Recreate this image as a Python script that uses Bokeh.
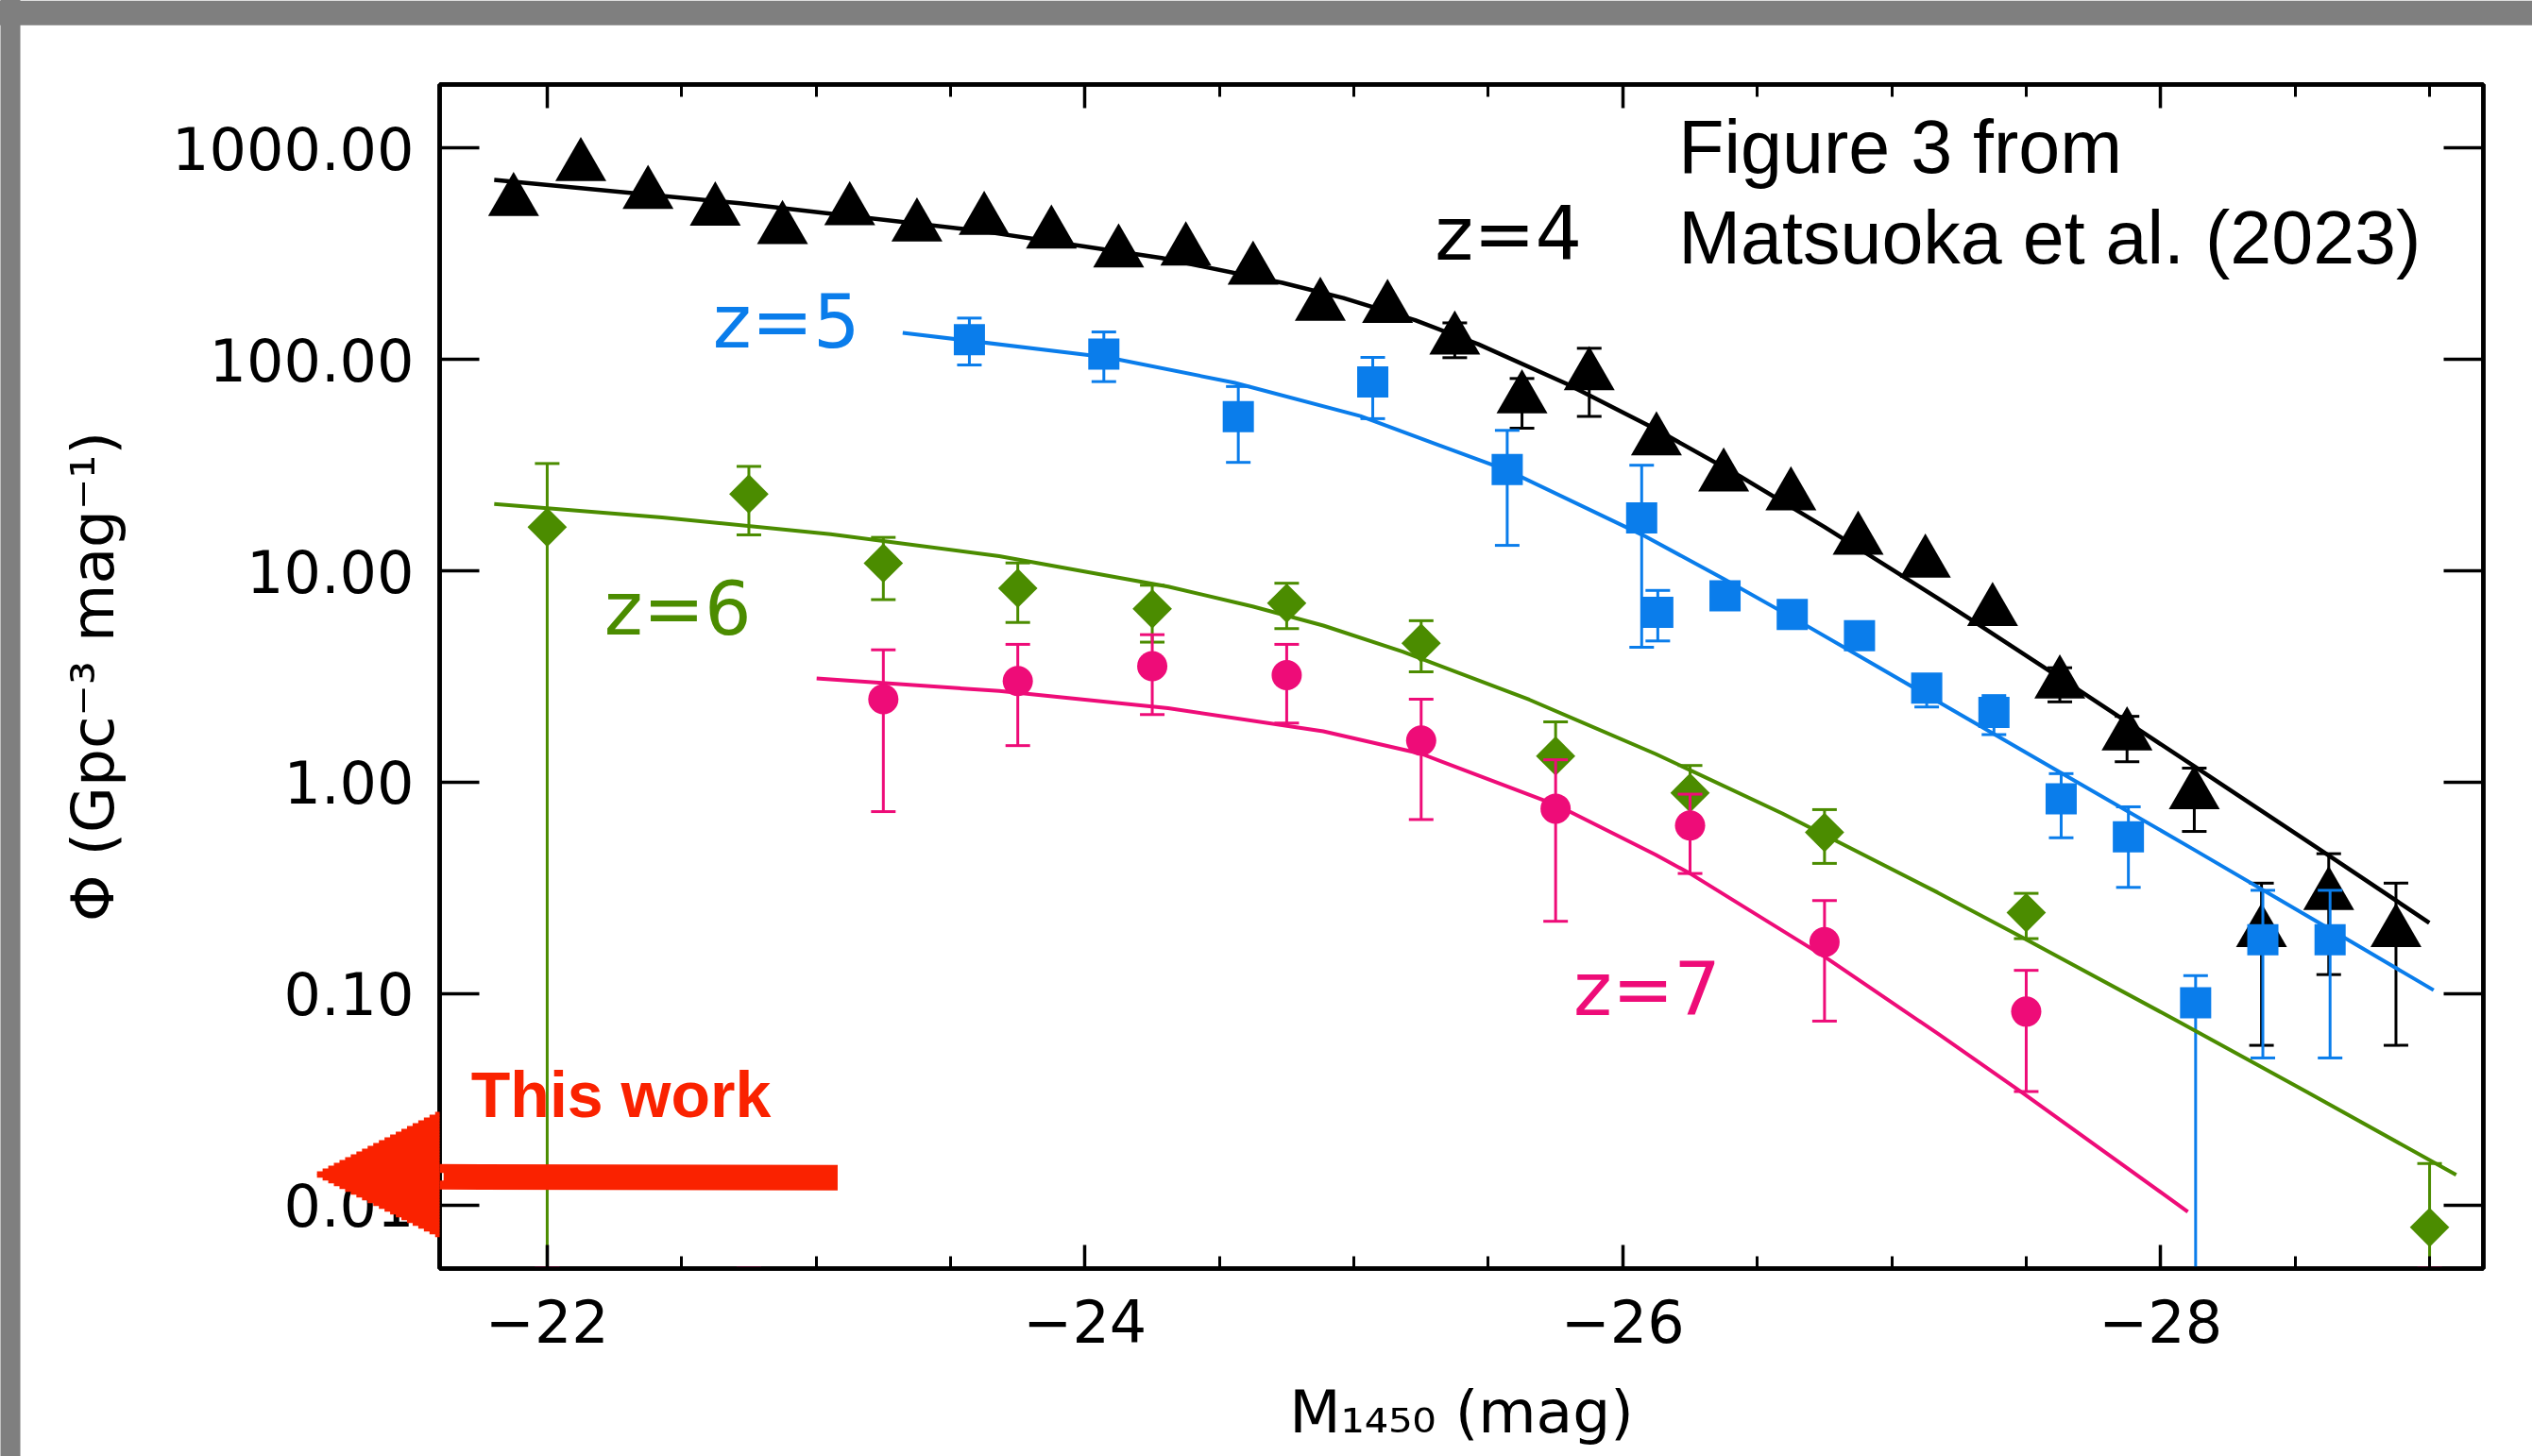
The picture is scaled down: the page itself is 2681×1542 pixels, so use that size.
from bokeh.plotting import figure
from bokeh.models import (Range1d, LinearAxis, LogAxis, FixedTicker, PrintfTickFormatter,
                          CustomJSTickFormatter, Label, Arrow, NormalHead)
from bokeh.embed import file_html
from bokeh.resources import INLINE

# ---------------- data ----------------
x_major_ticks = [-22, -24, -26, -28]
x_minor_ticks = [-22.5, -23, -23.5, -24.5, -25, -25.5, -26.5, -27, -27.5, -28.5, -29]
y_ticks = [0.01, 0.1, 1, 10, 100, 1000]

# z = 4 (black triangles)
z4_mag = [-21.875, -22.125, -22.375, -22.625, -22.875, -23.125, -23.375, -23.625, -23.875,
          -24.125, -24.375, -24.625, -24.875, -25.125, -25.375, -25.625, -25.875, -26.125,
          -26.375, -26.625, -26.875, -27.125, -27.375, -27.625, -27.875, -28.125, -28.375,
          -28.625, -28.875]
z4_phi = [560, 820, 606, 505, 413, 507, 425, 456, 393, 320, 327, 265, 179, 175, 124, 65.3,
          84, 41.3, 27.9, 22.7, 14.0, 10.9, 6.43, 2.92, 1.66, 0.874, 0.195, 0.292, 0.195]
z4_lo = [560, 820, 606, 505, 413, 507, 425, 456, 393, 320, 327, 265, 179, 175, 102, 47.3,
         53.8, 41.3, 27.9, 22.7, 14.0, 10.9, 6.43, 2.40, 1.25, 0.585, 0.0569, 0.123, 0.0569]
z4_hi = [560, 820, 606, 505, 413, 507, 425, 456, 393, 320, 327, 265, 179, 175, 149, 81.3,
         113, 41.3, 27.9, 22.7, 14.0, 10.9, 6.43, 3.48, 2.05, 1.166, 0.333, 0.459, 0.333]
z4_fit_mag = [-21.803, -22.717, -23.614, -24.285, -24.734, -24.961, -25.228, -25.463, -25.793,
              -26.122, -26.436, -26.750, -27.170, -27.289, -27.697, -28.152, -28.623, -28.999]
z4_fit_phi = [707, 548, 405.5, 302, 230.7, 195.3, 153.4, 118, 76.5, 46.8, 28.0, 16.13, 7.44,
              5.94, 2.72, 1.129, 0.452, 0.2162]

# z = 5 (blue squares)
z5_mag = [-23.57, -24.07, -24.57, -25.07, -25.57, -26.07, -26.13, -26.38, -26.63, -26.88,
          -27.13, -27.38, -27.63, -27.88, -28.13, -28.38, -28.63]
z5_phi = [124, 106, 53.7, 78.4, 30.2, 17.8, 6.37, 7.62, 6.22, 4.94, 2.79, 2.14, 0.834, 0.551,
          0.0905, 0.180, 0.180]
z5_lo = [94.2, 78.6, 32.6, 52.5, 13.2, 4.35, 4.66, 7.62, 6.22, 4.94, 2.27, 1.68, 0.546, 0.318,
         0.005, 0.0496, 0.0496]
z5_hi = [157, 135, 74.5, 102.3, 46.2, 31.6, 8.08, 7.62, 6.22, 4.94, 2.79, 2.57, 1.098, 0.765,
         0.1216, 0.308, 0.308]
z5_fit_mag = [-23.322, -24.084, -24.554, -25.024, -25.573, -26.075, -26.373, -26.639, -26.906,
              -27.126, -27.634, -28.121, -28.638, -29.015]
z5_fit_phi = [133.8, 102.4, 77.7, 54.0, 29.8, 14.74, 9.20, 5.93, 3.78, 2.60, 1.10, 0.482,
              0.1987, 0.1038]

# z = 6 (green diamonds)
z6_mag = [-22.0, -22.75, -23.25, -23.75, -24.25, -24.75, -25.25, -25.75, -26.25, -26.75, -27.5, -29.0]
z6_phi = [16.1, 23.1, 10.87, 8.28, 6.61, 7.03, 4.55, 1.33, 0.891, 0.579, 0.2415, 0.00784]
z6_lo = [0.005, 14.8, 7.31, 5.70, 4.60, 5.33, 3.33, 1.33, 0.891, 0.413, 0.182, 0.005]
z6_hi = [32.2, 31.2, 14.4, 10.9, 8.55, 8.74, 5.81, 1.93, 1.20, 0.742, 0.298, 0.0157]
z6_fit_mag = [-21.803, -22.427, -23.054, -23.681, -24.309, -24.623, -24.886, -25.181, -25.652,
              -26.122, -26.593, -27.170, -27.477, -28.073, -28.544, -29.099]
z6_fit_phi = [20.7, 17.9, 14.9, 11.73, 8.42, 6.79, 5.51, 4.15, 2.458, 1.36, 0.712, 0.301,
              0.1868, 0.0729, 0.0342, 0.01388]

# z = 7 (pink circles)
z7_mag = [-23.25, -23.75, -24.25, -24.75, -25.25, -25.75, -26.25, -26.75, -27.5]
z7_phi = [2.47, 3.01, 3.54, 3.21, 1.574, 0.750, 0.6245, 0.1752, 0.0822]
z7_lo = [0.726, 1.49, 2.09, 1.905, 0.666, 0.2198, 0.370, 0.0741, 0.0344]
z7_hi = [4.23, 4.49, 4.99, 4.49, 2.47, 1.277, 0.878, 0.2755, 0.1288]
z7_floor_mag = [-22.0, -22.75, -29.0]
z7_floor_phi = [0.005, 0.005, 0.005]
z7_fit_mag = [-23.002, -23.681, -24.309, -24.886, -25.250, -25.753, -26.122, -26.253, -26.751,
              -27.170, -27.490, -28.101]
z7_fit_phi = [3.10, 2.70, 2.24, 1.742, 1.364, 0.780, 0.454, 0.368, 0.1492, 0.0648, 0.03366,
              0.00929]

# ---------------- styling ----------------
BLACK = "#000000"
BLUE = "#0A7DEB"
GREEN = "#4B8C00"
PINK = "#EE0C78"
RED = "#FA2200"
GRAY = "#7F7F7F"
TICK_FONT = "DejaVu Sans"

p = figure(width=2681, height=1542,
           x_range=Range1d(-21.6, -29.2), y_range=Range1d(0.005, 2000),
           y_axis_type="log", output_backend="svg", toolbar_location=None,
           min_border_left=465, min_border_right=52, min_border_top=89, min_border_bottom=199)
p.xgrid.visible = False
p.ygrid.visible = False
p.outline_line_color = BLACK
p.outline_line_width = 4.5
p.background_fill_color = "white"
p.border_fill_color = "white"


def style_axis(ax, major_in, minor_in):
    ax.axis_line_color = BLACK
    ax.axis_line_width = 4.5
    ax.major_tick_in = major_in
    ax.major_tick_out = 0
    ax.minor_tick_in = minor_in
    ax.minor_tick_out = 0
    ax.major_tick_line_color = BLACK
    ax.minor_tick_line_color = BLACK
    ax.major_tick_line_width = 3.5
    ax.minor_tick_line_width = 3
    ax.major_label_text_font = TICK_FONT
    ax.major_label_text_font_size = "62px"
    ax.major_label_text_color = BLACK
    ax.axis_label_text_font = TICK_FONT
    ax.axis_label_text_font_size = "63px"
    ax.axis_label_text_font_style = "normal"
    ax.axis_label_text_color = BLACK


xticker = FixedTicker(ticks=x_major_ticks, minor_ticks=x_minor_ticks)
yticker = FixedTicker(ticks=y_ticks, minor_ticks=[])

xa = p.xaxis[0]
xa.ticker = xticker
xa.formatter = CustomJSTickFormatter(code="return '\u2212' + Math.abs(tick).toFixed(0);")
style_axis(xa, 25, 13)
xa.major_label_standoff = 32
xa.axis_label = "M\u2081\u2084\u2085\u2080 (mag)"
xa.axis_label_standoff = 34

ya = p.yaxis[0]
ya.ticker = yticker
ya.formatter = PrintfTickFormatter(format="%.2f")
style_axis(ya, 42, 0)
ya.major_label_standoff = 27
ya.axis_label = "\u03a6 (Gpc\u207b\u00b3 mag\u207b\u00b9)"
ya.axis_label_standoff = 44

top = LinearAxis(ticker=xticker, formatter=CustomJSTickFormatter(code="return '';"))
style_axis(top, 25, 13)
top.major_label_standoff = 0
p.add_layout(top, "above")

right = LogAxis(ticker=yticker, formatter=CustomJSTickFormatter(code="return '';"))
style_axis(right, 42, 0)
right.major_label_standoff = 0
p.add_layout(right, "right")


def px(X, Y):
    """canvas pixel -> data coordinates (used only for decorations drawn outside the frame)"""
    return -26 + (1717 - X) / 284.6, 10 ** ((828.3 - Y) / 224)


def bar(X0, Y0, X1, Y1, color, width, head_size):
    """thick stroke; the (invisible) head sets the region where the stroke may show outside the frame"""
    x0, y0 = px(X0, Y0)
    x1, y1 = px(X1, Y1)
    head = NormalHead(size=head_size, fill_alpha=0, line_alpha=0)
    p.add_layout(Arrow(end=head, x_start=x0, y_start=y0, x_end=x1, y_end=y1,
                       line_color=color, line_width=width, line_cap="butt"))


# gray screenshot border strips (top and left)
bar(10.5, 1600, 10.5, -3000, GRAY, 21, 12000)
bar(2750, 13, -3000, 13, GRAY, 26, 12000)


def errbars(mag, lo, hi, color):
    p.segment(x0=mag, y0=lo, x1=mag, y1=hi, line_color=color, line_width=3)
    p.scatter(x=mag, y=lo, marker="dash", size=26, line_color=color, line_width=3)
    p.scatter(x=mag, y=hi, marker="dash", size=26, line_color=color, line_width=3)


# z = 4
p.line(z4_fit_mag, z4_fit_phi, line_color=BLACK, line_width=4.5)
errbars(z4_mag, z4_lo, z4_hi, BLACK)
p.scatter(z4_mag, z4_phi, marker="triangle", size=54, fill_color=BLACK, line_color=None)

# z = 5
p.line(z5_fit_mag, z5_fit_phi, line_color=BLUE, line_width=4)
errbars(z5_mag, z5_lo, z5_hi, BLUE)
p.scatter(z5_mag, z5_phi, marker="square", size=33, fill_color=BLUE, line_color=None)

# z = 6
p.line(z6_fit_mag, z6_fit_phi, line_color=GREEN, line_width=4)
errbars(z6_mag, z6_lo, z6_hi, GREEN)
p.scatter(z6_mag, z6_phi, marker="square", angle=0.785398, size=29.5, fill_color=GREEN, line_color=None)

# z = 7
p.line(z7_fit_mag, z7_fit_phi, line_color=PINK, line_width=4)
errbars(z7_mag, z7_lo, z7_hi, PINK)
p.scatter(z7_floor_mag, z7_floor_phi, marker="dash", size=26, line_color=PINK, line_width=5)
p.scatter(z7_mag, z7_phi, marker="circle", size=32, fill_color=PINK, line_color=None)

# redshift labels
for txt, x, y, col in [("z=4", -25.301, 392, BLACK), ("z=5", -22.616, 150.7, BLUE),
                       ("z=6", -22.212, 6.58, GREEN), ("z=7", -25.816, 0.1041, PINK)]:
    p.add_layout(Label(x=x, y=y, text=txt, text_font=TICK_FONT, text_font_size="78px",
                       text_color=col, text_align="left", text_baseline="alphabetic"))

p.add_layout(Label(x=-26.207, y=1013.5, text="Figure 3 from", text_font="Liberation Sans",
                   text_font_size="79px", text_color=BLACK, text_align="left",
                   text_baseline="alphabetic"))
p.add_layout(Label(x=-26.207, y=377.8, text="Matsuoka et al. (2023)", text_font="Liberation Sans",
                   text_font_size="79px", text_color=BLACK, text_align="left",
                   text_baseline="alphabetic"))

# "This work" red arrow: shaft inside the frame, triangular head (thin strips) outside it
bar(886, 1247.5, 461, 1246.5, RED, 27, 8)
TIP_X, BACK_X, HEAD_CY, HEAD_HALF, NSTRIP = 332, 463, 1244, 66, 44
for k in range(NSTRIP):
    yc = HEAD_CY - HEAD_HALF + (k + 0.5) * (2 * HEAD_HALF / NSTRIP)
    xl = TIP_X + (BACK_X - TIP_X) * abs(yc - HEAD_CY) / HEAD_HALF
    length = BACK_X + 3 - xl
    bar(BACK_X + 3, yc, xl, yc, RED, 2 * HEAD_HALF / NSTRIP + 0.8, max(length + 2, 8))

p.add_layout(Label(x=-21.717, y=0.0334, text="This work", text_font="Liberation Sans",
                   text_font_size="68px", text_font_style="bold", text_color=RED,
                   text_align="left", text_baseline="alphabetic"))

open("out.html", "w").write(file_html(p, INLINE))
